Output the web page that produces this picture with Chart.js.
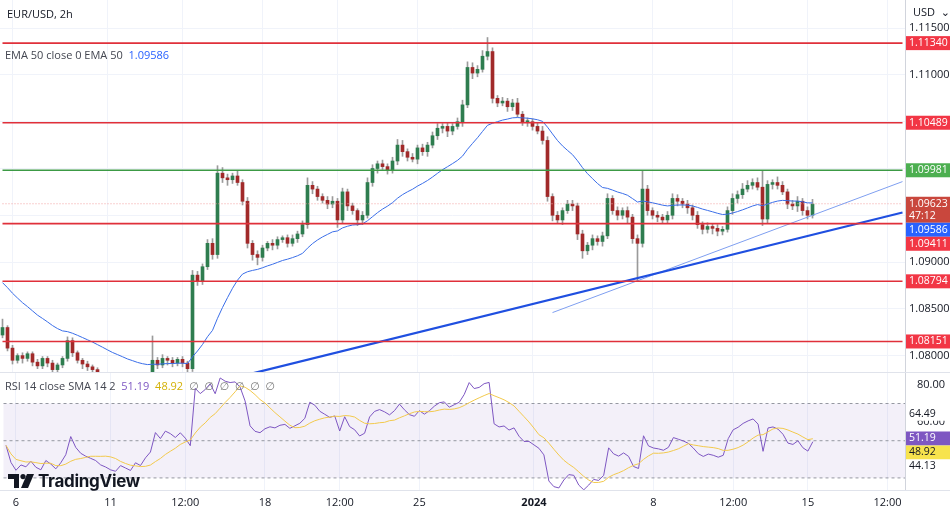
<!DOCTYPE html>
<html>
<head>
<meta charset="utf-8">
<script src="https://cdn.jsdelivr.net/npm/chart.js@4.4.1/dist/chart.umd.min.js"></script>
<style>
  html, body { margin: 0; padding: 0; background: #fff; }
  #wrap { position: relative; width: 950px; height: 515px; overflow: hidden; font-family: 'Open Sans', 'DejaVu Sans', sans-serif; }
  #top { position: absolute; left: 0; top: 0; width: 950px; height: 373px; }
  #bot { position: absolute; left: 0; top: 373px; width: 950px; height: 142px; }
  .sep { position: absolute; left: 0; width: 950px; height: 1px; background: #e0e3eb; }
  .txt { position: absolute; font-size: 11px; color: #131722; white-space: nowrap; }
  #logo { position: absolute; left: 8px; top: 471px; font: bold 17px 'Inter', 'Open Sans', sans-serif; color: #131722; letter-spacing: -0.3px; display: flex; align-items: center; gap: 4px; }
</style>
</head>
<body>
<div id="wrap">
  <div id="top"><canvas id="cTop"></canvas></div>
  <div id="bot"><canvas id="cBot"></canvas></div>
  <div class="sep" style="top:372px"></div>
  <div class="sep" style="top:490px"></div>
  <div class="txt" style="left:7px;top:6px">EUR/USD, 2h</div>
  <div class="txt" style="left:5px;top:47px;color:#434651">EMA 50 close 0 EMA 50 &nbsp;<span style="color:#2962ff">1.09586</span></div>
  <div class="txt" style="left:5px;top:378px;color:#434651">RSI 14 close SMA 14 2 &nbsp;<span style="color:#7e57c2">51.19</span> &nbsp;<span style="color:#d4b106">48.92</span> &nbsp;<span style="color:#777">∅ &nbsp;∅ &nbsp;∅ &nbsp;∅ &nbsp;∅ &nbsp;∅</span></div>
  <div class="txt" style="left:913px;top:4px">USD &nbsp;⌄</div>
  <div id="logo"><svg width="26" height="14" viewBox="0 0 26 14"><path d="M0 0H11V14H6V5H0Z" fill="#131722"/><circle cx="15" cy="2.6" r="2.6" fill="#131722"/><path d="M19 0H26L20 14H13Z" fill="#131722"/></svg>TradingView</div>
</div>
<script>
// ── data ──
const firstOpen = 1.0822;
const closes = [
  1.0830,1.0808,1.0795,1.0800,1.0797,1.0802,1.0793,1.0789,1.0797,1.0792,
  1.0785,1.0790,1.0797,1.0816,1.0803,1.0795,1.0791,1.0788,1.0785,1.0779,
  1.0776,1.0772,1.0770,1.0774,1.0771,1.0768,1.0773,1.0770,1.0775,1.0779,
  1.0795,1.0790,1.0797,1.0795,1.0792,1.0796,1.0792,1.0786,1.0886,1.0880,
  1.0895,1.0920,1.0908,1.0995,1.0990,1.0988,1.0992,1.0985,1.0965,1.0920,
  1.0908,1.0905,1.0915,1.0920,1.0918,1.0924,1.0926,1.0920,1.0925,1.0930,
  1.0940,1.0982,1.0978,1.0970,1.0966,1.0962,1.0965,1.0945,1.0975,1.0960,
  1.0955,1.0945,1.0950,1.0985,1.1000,1.1005,1.1002,1.0998,1.1008,1.1025,
  1.1018,1.1012,1.1010,1.1022,1.1018,1.1025,1.1035,1.1043,1.1045,1.1040,
  1.1045,1.1050,1.1068,1.1108,1.1102,1.1106,1.1120,1.1125,1.1075,1.1070,
  1.1072,1.1066,1.1070,1.1058,1.1050,1.1050,1.1045,1.1040,1.1030,1.0970,
  1.0950,1.0945,1.0955,1.0962,1.0960,1.0930,1.0912,1.0918,1.0925,1.0922,
  1.0928,1.0968,1.0955,1.0950,1.0955,1.0948,1.0925,1.0920,1.0978,1.0955,
  1.0950,1.0948,1.0945,1.0950,1.0968,1.0965,1.0962,1.0958,1.0950,1.0940,
  1.0935,1.0938,1.0936,1.0933,1.0935,1.0955,1.0968,1.0972,1.0978,1.0982,
  1.0985,1.0980,1.0946,1.0983,1.0985,1.0982,1.0975,1.0962,1.0960,1.0965,
  1.0955,1.0950,1.0962
];
// wick lengths above / below the body, in pips
const upWick = [
  9,2,3,2,3,2,2,3,2,2, 3,2,2,4,3,2,2,3,2,2, 2,3,2,2,3,2,2,3,2,2,
  26,3,4,2,3,2,3,2,5,4, 3,4,5,8,6,4,3,5,3,4, 3,4,3,2,4,3,2,3,4,3,
  4,8,4,3,3,4,5,3,4,3, 3,2,4,5,4,3,4,3,4,6, 5,3,4,3,4,3,4,5,3,4,
  3,4,5,6,5,4,6,15,4,3, 4,3,4,5,3,4,3,4,5,4, 3,4,3,4,4,3,4,3,4,3,
  4,5,3,4,3,4,3,4,20,4, 3,4,3,4,5,4,3,4,3,4, 3,4,3,4,3,4,5,4,6,5,
  4,5,18,4,3,6,4,3,4,5, 3,4,5
];
const downWick = [
  3,3,4,3,5,3,4,3,3,4, 5,3,3,3,4,3,5,4,3,4, 3,4,3,5,3,3,4,3,4,3,
  3,4,3,5,4,3,4,5,3,5, 4,3,5,4,5,6,4,3,4,5, 6,8,4,3,5,4,3,4,3,4,
  3,4,5,4,3,5,4,8,4,5, 4,6,5,3,4,5,3,4,3,4, 5,4,3,5,4,5,3,4,5,6,
  4,3,5,3,6,4,3,4,5,4, 3,5,4,3,4,5,4,3,4,5, 6,4,5,3,5,6,8,4,5,4,
  5,3,4,5,4,6,5,40,4,5, 4,5,4,3,4,5,4,6,5,4, 5,4,6,5,4,3,4,5,4,3,
  4,3,7,4,5,4,3,5,4,6, 5,4,3
];
const SLOTS = 181;
const tickAt = { 2: '6', 21: '11', 36: '12:00', 52: '18', 67: '12:00', 83: '25', 106: '2024', 130: '8', 146: '12:00', 161: '15', 177: '12:00' };
const redLevels = [1.11340, 1.10489, 1.09411, 1.08794, 1.08151];
const greenLevels = [1.09981];
const lastPrice = 1.09623;
const emaLast = 1.09586;
const emaSeed = 1.0878;
const trendThick = [[50, 1.0781], [180, 1.0953]];
const trendThin = [[110, 1.0846], [180, 1.0986]];
const rsiLast = 51.19, rsiSmaLast = 48.92, rsiHi = 64.49, rsiLo = 44.13;

// ── derived series ──
const xLabels = Array.from({ length: SLOTS }, (_, i) => tickAt[i] || '');
const opens = closes.map((c, i) => i === 0 ? firstOpen : closes[i - 1]);
const highs = closes.map((c, i) => Math.max(c, opens[i]) + upWick[i] / 10000);
const lows = closes.map((c, i) => Math.min(c, opens[i]) - downWick[i] / 10000);
const UP = '#2e7d4f', DN = '#a12a2a';

const ema = [];
closes.forEach((c, i) => { const k = 2 / 26; ema.push(i === 0 ? emaSeed : ema[i - 1] + k * (c - ema[i - 1])); });

const rsi = [];
let ag = 0.0003, al = 0.0004;
closes.forEach((c, i) => {
  const d = c - opens[i];
  ag = (ag * 13 + Math.max(d, 0)) / 14;
  al = (al * 13 + Math.max(-d, 0)) / 14;
  rsi.push(100 - 100 / (1 + ag / al));
});
const rsiSma = rsi.map((v, i) => { const s = rsi.slice(Math.max(0, i - 9), i + 1); return s.reduce((a, b) => a + b, 0) / s.length; });

function flat(v) { return Array.from({ length: SLOTS }, (_, i) => (i === 0 || i === SLOTS - 1) ? v : null); }
function seg(pts) { const a = new Array(SLOTS).fill(null); pts.forEach(([i, v]) => a[i] = v); return a; }
function pad(arr) { return arr.concat(new Array(SLOTS - arr.length).fill(null)); }
function noPad(s) { s.paddingTop = 0; s.paddingBottom = 0; }

const datasets = [
  { type: 'bar', data: pad(closes.map((c, i) => [lows[i], highs[i]])), backgroundColor: '#9a9a9a', barThickness: 1, grouped: false, order: 3 },
  { type: 'bar', data: pad(closes.map((c, i) => [opens[i], c])), backgroundColor: closes.map((c, i) => c >= opens[i] ? UP : DN), barThickness: 3, grouped: false, order: 2, minBarLength: 1 },
  { type: 'line', data: pad(ema), borderColor: '#3a6ee8', borderWidth: 1, pointRadius: 0, order: 1 },
  { type: 'line', data: seg(trendThick), borderColor: '#1f4fe0', borderWidth: 2.2, pointRadius: 0, spanGaps: true, order: 1 },
  { type: 'line', data: seg(trendThin), borderColor: '#7f9ff0', borderWidth: 1, pointRadius: 0, spanGaps: true, order: 1 },
  { type: 'line', data: flat(lastPrice), borderColor: '#f2a0a0', borderWidth: 1, borderDash: [1, 2], pointRadius: 0, spanGaps: true, order: 1 },
  ...redLevels.map(v => ({ type: 'line', data: flat(v), borderColor: '#e0303a', borderWidth: 1.6, pointRadius: 0, spanGaps: true, order: 0 })),
  ...greenLevels.map(v => ({ type: 'line', data: flat(v), borderColor: '#3c9a45', borderWidth: 1.6, pointRadius: 0, spanGaps: true, order: 0 }))
];

function drawBox(ctx, x, y, w, h, bg, lines, fg) {
  ctx.fillStyle = bg; ctx.fillRect(x, y, w, h);
  ctx.fillStyle = fg; ctx.font = '10.5px "Open Sans", sans-serif'; ctx.textBaseline = 'middle'; ctx.textAlign = 'left';
  lines.forEach((t, k) => ctx.fillText(t, x + 3, y + 7 + k * 12));
}
function stackBoxes(ctx, x, boxes) {
  let bottom = -99;
  boxes.sort((a, b) => a.y - b.y).forEach(b => {
    const h = b.lines.length > 1 ? 26 : 14;
    const top = Math.max(b.y - 7, bottom);
    drawBox(ctx, x, top, 44, h, b.bg, b.lines, b.fg);
    bottom = top + h;
  });
}

const priceBoxes = {
  id: 'priceBoxes',
  afterDraw(chart) {
    const { ctx, scales: { y }, chartArea } = chart;
    const boxes = [
      ...redLevels.map(v => ({ v, bg: '#f23645', lines: [v.toFixed(5)], fg: '#fff' })),
      ...greenLevels.map(v => ({ v, bg: '#4caf50', lines: [v.toFixed(5)], fg: '#fff' })),
      { v: lastPrice, bg: '#c9473d', lines: [lastPrice.toFixed(5), '47:12'], fg: '#fff' },
      { v: emaLast, bg: '#2962ff', lines: [emaLast.toFixed(5)], fg: '#fff' }
    ].map(b => ({ ...b, y: y.getPixelForValue(b.v) }));
    stackBoxes(ctx, chartArea.right + 1, boxes);
  }
};

new Chart(document.getElementById('cTop'), {
  type: 'bar',
  data: { labels: xLabels, datasets },
  plugins: [priceBoxes],
  options: {
    responsive: true, maintainAspectRatio: false, animation: false,
    layout: { padding: 0 },
    plugins: { legend: { display: false }, tooltip: { enabled: false } },
    scales: {
      x: {
        offset: true,
        ticks: { display: false, autoSkip: false },
        border: { display: false },
        grid: { offset: false, drawTicks: false, color: ctx => xLabels[ctx.index] ? '#f0f3fa' : 'transparent' },
        afterFit: s => { s.height = 0; }
      },
      y: {
        position: 'right', min: 1.07814, max: 1.11801,
        afterBuildTicks: s => { s.ticks = [1.08, 1.085, 1.09, 1.095, 1.10, 1.105, 1.11, 1.115].map(v => ({ value: v })); },
        afterFit: s => { s.width = 45; noPad(s); },
        ticks: { color: '#131722', font: { size: 11, family: 'Open Sans' }, padding: 4, callback: v => v.toFixed(5) },
        border: { color: '#d1d4dc' },
        grid: { color: '#f0f3fa', drawTicks: false }
      }
    }
  }
});

const rsiDecor = {
  id: 'rsiDecor',
  beforeDatasetsDraw(chart) {
    const { ctx, scales: { y }, chartArea: a } = chart;
    const y70 = y.getPixelForValue(70), y30 = y.getPixelForValue(30), y50 = y.getPixelForValue(50);
    ctx.save();
    ctx.fillStyle = 'rgba(126,87,194,0.09)';
    ctx.fillRect(a.left, y70, a.right - a.left, y30 - y70);
    ctx.strokeStyle = '#9598a1'; ctx.setLineDash([3, 3]); ctx.lineWidth = 1;
    [y70, y50, y30].forEach(p => { ctx.beginPath(); ctx.moveTo(a.left, p); ctx.lineTo(a.right, p); ctx.stroke(); });
    ctx.restore();
  },
  afterDraw(chart) {
    const { ctx, scales: { y }, chartArea: a } = chart;
    stackBoxes(ctx, a.right + 1, [
      { v: rsiHi, bg: '#fff', lines: [rsiHi.toFixed(2)], fg: '#131722' },
      { v: rsiLast, bg: '#7e57c2', lines: [rsiLast.toFixed(2)], fg: '#fff' },
      { v: rsiSmaLast, bg: '#f7e34d', lines: [rsiSmaLast.toFixed(2)], fg: '#131722' },
      { v: rsiLo, bg: '#fff', lines: [rsiLo.toFixed(2)], fg: '#131722' }
    ].map(b => ({ ...b, y: y.getPixelForValue(b.v) })));
  }
};

new Chart(document.getElementById('cBot'), {
  type: 'line',
  data: {
    labels: xLabels,
    datasets: [
      { data: pad(rsiSma), borderColor: '#f2c94c', borderWidth: 1, pointRadius: 0 },
      { data: pad(rsi), borderColor: '#7e57c2', borderWidth: 1, pointRadius: 0 }
    ]
  },
  plugins: [rsiDecor],
  options: {
    responsive: true, maintainAspectRatio: false, animation: false,
    layout: { padding: 0 },
    plugins: { legend: { display: false }, tooltip: { enabled: false } },
    scales: {
      x: {
        offset: true,
        afterFit: s => { s.height = 25; },
        ticks: {
          autoSkip: false, maxRotation: 0, padding: 6, color: '#131722',
          font: ctx => ({ size: 11, family: 'Open Sans', weight: xLabels[ctx.index] === '2024' ? 'bold' : 'normal' }),
          callback: (v, i) => xLabels[i]
        },
        border: { display: false },
        grid: { offset: false, drawTicks: false, color: ctx => xLabels[ctx.index] ? '#f0f3fa' : 'transparent' }
      },
      y: {
        position: 'right', min: 23.5, max: 86.4,
        afterBuildTicks: s => { s.ticks = [{ value: 60 }, { value: 80 }]; },
        afterFit: s => { s.width = 45; noPad(s); },
        ticks: { color: '#131722', font: { size: 11, family: 'Open Sans' }, padding: 4, callback: v => v.toFixed(2) },
        border: { color: '#d1d4dc' },
        grid: { display: false }
      }
    }
  }
});
</script>
</body>
</html>
